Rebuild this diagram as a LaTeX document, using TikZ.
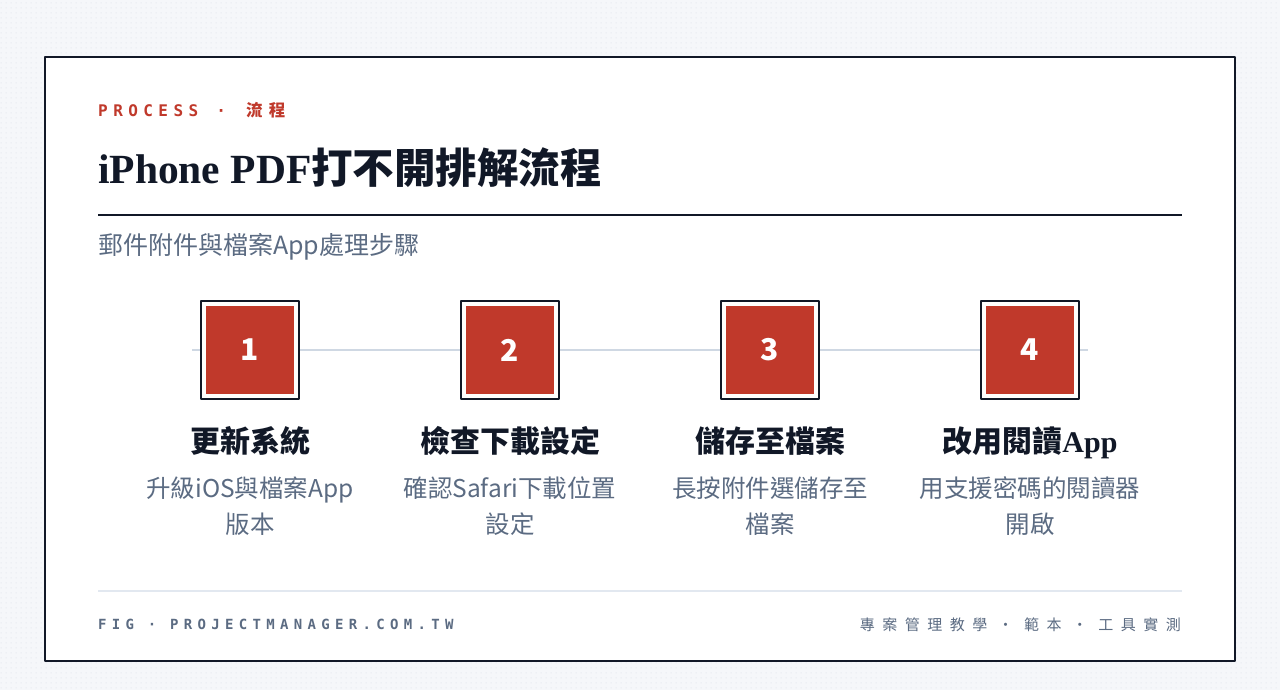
\documentclass[tikz,border=0pt]{standalone}
\usepackage{fontspec}
\setmainfont{Noto Sans CJK TC}
\newfontfamily\serifl{Liberation Serif}
\newfontfamily\monosp{DejaVu Sans Mono}[LetterSpace=34]
\newfontfamily\monofig{DejaVu Sans Mono}[LetterSpace=38]
\newfontfamily\cjksp{Noto Sans CJK TC}[LetterSpace=50]
\newfontfamily\cjkkick{Noto Sans CJK TC}[LetterSpace=38]
\usetikzlibrary{patterns.meta}
\definecolor{ink}{HTML}{111827}
\definecolor{brick}{HTML}{C0392B}
\definecolor{slate}{HTML}{5B6B82}
\definecolor{paper}{HTML}{F5F7FA}
\definecolor{dotc}{HTML}{DFE5EC}
\definecolor{rail}{HTML}{CFD8E3}
\definecolor{hair}{HTML}{E2E8F0}
\tikzdeclarepattern{name=paperdots,type=uncolored,
  bottom left={(0pt,0pt)},top right={(5pt,5pt)},tile size={(5pt,5pt)},
  code={\fill (2.5pt,2.5pt) circle (0.7pt);}}
\begin{document}
\begin{tikzpicture}[x=1pt,y=-1pt,line join=round,line cap=round,
  stepframe/.style={draw=ink,line width=2pt,fill=white,minimum size=98pt,inner sep=0pt},
  stepnum/.style={fill=brick,text=white,minimum size=88pt,inner sep=0pt,font=\fontsize{30}{30}\selectfont\bfseries},
  steptitle/.style={text=ink,anchor=base,inner sep=0pt,font=\fontsize{30}{30}\selectfont\bfseries},
  stepnote/.style={text=slate,anchor=base,inner sep=0pt,font=\fontsize{24.5}{24.5}\selectfont}]
	\useasboundingbox (0,0) rectangle (1280,690);
	\fill[paper] (0,0) rectangle (1280,690);
	\fill[pattern=paperdots,pattern color=dotc] (0,0) rectangle (1280,690);
	\draw[ink,line width=2pt,fill=white] (45,57) rectangle (1235,661);
	\node[anchor=base west,inner sep=0pt,text=brick] (kicker) at (98,117)
		{{\fontsize{16}{16}\selectfont\monosp\bfseries PROCESS\hspace{3pt} · \hspace{5pt}}{\fontsize{16.5}{16.5}\selectfont\cjkkick\bfseries 流程}};
	\node[anchor=base west,inner sep=0pt,text=ink] (title) at (98,183)
		{\fontsize{41.5}{41.5}\selectfont{\serifl\bfseries iPhone PDF}{\bfseries 打不開排解流程}};
	\draw[ink,line width=2pt,line cap=butt] (98,215)--(1182,215);
	\node[anchor=base west,inner sep=0pt,text=slate] (subtitle) at (98,254)
		{\fontsize{25}{25}\selectfont 郵件附件與檔案App處理步驟};
	\coordinate (railL) at (192,350);
	\coordinate (railR) at (1088,350);
	\draw[rail,line width=2pt,line cap=butt] (railL)--(railR);
	\foreach \n/\hd/\la/\lb in {1/更新系統/升級iOS與檔案App/版本,
		2/檢查下載設定/確認Safari下載位置/設定,
		3/儲存至檔案/長按附件選儲存至/檔案,
		4/{改用閱讀{\serifl\bfseries App}}/用支援密碼的閱讀器/開啟}{
		\node[stepframe] (f\n) at ({250+(\n-1)*260},350) {};
		\node[stepnum] (s\n) at (f\n) {\n};
		\node[steptitle] (t\n) at ({250+(\n-1)*260},452) {\hd};
		\node[stepnote] (a\n) at ({250+(\n-1)*260},497) {\la};
		\node[stepnote] (b\n) at ({250+(\n-1)*260},533) {\lb};
	}
	\draw[hair,line width=1.5pt,line cap=butt] (98,591)--(1182,591);
	\node[anchor=base west,inner sep=0pt,text=slate] (figtag) at (98,629)
		{\fontsize{14}{14}\selectfont\monofig\bfseries FIG · PROJECTMANAGER.COM.TW};
	\node[anchor=base east,inner sep=0pt,text=slate] (topics) at (1181,630)
		{\fontsize{15}{15}\selectfont\cjksp 專案管理教學 · 範本 · 工具實測};
\end{tikzpicture}
\end{document}
